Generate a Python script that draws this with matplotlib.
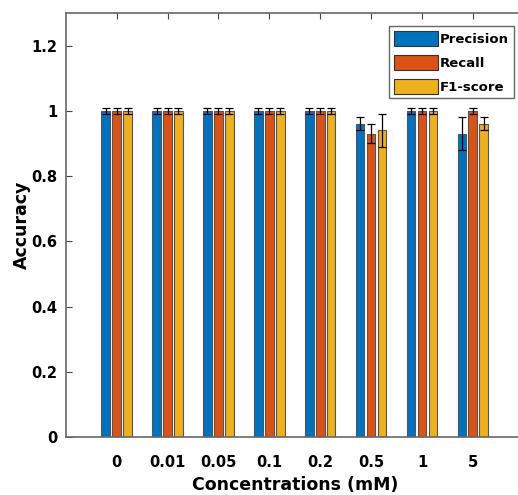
import numpy as np
import matplotlib.pyplot as plt

plt.rcParams['font.family'] = ['DejaVu Sans']
plt.rcParams['font.weight'] = 'bold'

# data
concentrations = ['0', '0.01', '0.05', '0.1', '0.2', '0.5', '1', '5']
precision = [1.00, 1.00, 1.00, 1.00, 1.00, 0.96, 1.00, 0.93]
recall = [1.00, 1.00, 1.00, 1.00, 1.00, 0.93, 1.00, 1.00]
f1_score = [1.00, 1.00, 1.00, 1.00, 1.00, 0.94, 1.00, 0.96]
precision_err = [0.01, 0.01, 0.01, 0.01, 0.01, 0.02, 0.01, 0.05]
recall_err = [0.01, 0.01, 0.01, 0.01, 0.01, 0.03, 0.01, 0.01]
f1_err = [0.01, 0.01, 0.01, 0.01, 0.01, 0.05, 0.01, 0.02]

series = [
    ('Precision', precision, precision_err, '#0072BD'),
    ('Recall', recall, recall_err, '#D95319'),
    ('F1-score', f1_score, f1_err, '#EDB120'),
]

fig = plt.figure(figsize=(5.18, 4.95), dpi=100)
ax = fig.add_axes([0.127, 0.117, 0.884, 0.857])

x = np.arange(1, len(concentrations) + 1)
offset = 0.215
width = 0.17
for k, (name, vals, errs, col) in enumerate(series):
    pos = x + (k - 1) * offset
    ax.bar(pos, vals, width, color=col, edgecolor='#555555', linewidth=0.8,
           label=name, zorder=2)
    ax.errorbar(pos, vals, yerr=errs, fmt='none', ecolor='black',
                elinewidth=0.9, capsize=3, capthick=0.9, zorder=3)

ax.set_xlim(0, 9)
ax.set_ylim(0, 1.3)
ax.set_xticks(x)
ax.set_xticklabels(concentrations, fontsize=10.5, fontweight='bold')
ax.set_yticks([0, 0.2, 0.4, 0.6, 0.8, 1.0, 1.2])
ax.set_yticklabels(['0', '0.2', '0.4', '0.6', '0.8', '1', '1.2'],
                   fontsize=10.5, fontweight='bold')
ax.tick_params(axis='both', direction='in', length=4, width=0.8, color='#444444',
               top=True, right=True)
ax.tick_params(axis='x', pad=13)
ax.tick_params(axis='y', pad=6)
for s in ax.spines.values():
    s.set_color('#666666')
    s.set_linewidth(1.2)
    s.set_zorder(4)

ax.set_xlabel('Concentrations (mM)', fontsize=12.5, fontweight='bold', labelpad=4)
ax.set_ylabel('Accuracy', fontsize=12.5, fontweight='bold', labelpad=0)

leg = ax.legend(loc='upper right', bbox_to_anchor=(0.992, 0.947),
                bbox_transform=fig.transFigure, borderaxespad=0,
                fancybox=False, prop={'weight': 'bold', 'size': 9.5},
                handlelength=3.3, handleheight=1.35, handletextpad=0.2,
                labelspacing=0.7, borderpad=0.35, framealpha=1)
leg.get_frame().set_edgecolor('#666666')
leg.get_frame().set_linewidth(1.0)
for h in leg.legend_handles:
    h.set_edgecolor('#333333')

fig.savefig('out.png', dpi=100)
